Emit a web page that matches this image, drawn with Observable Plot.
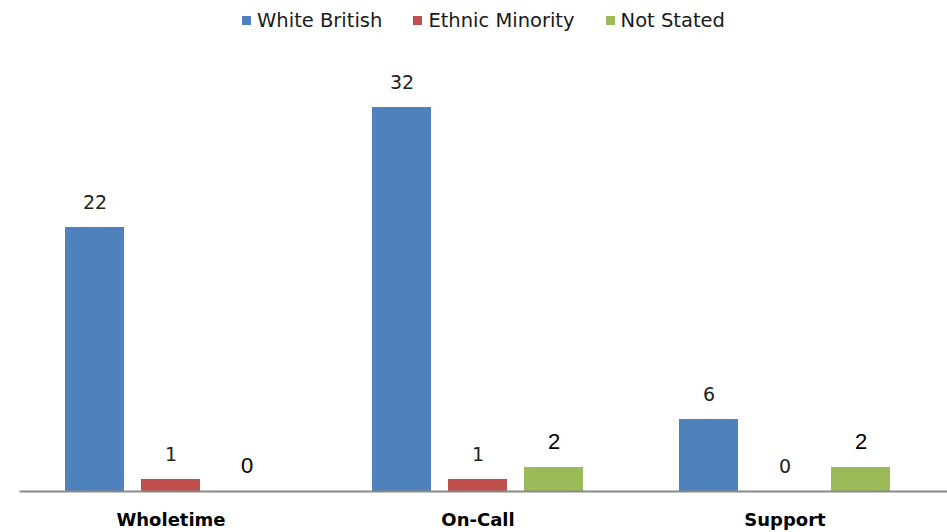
<!DOCTYPE html>
<html>
<head>
<meta charset="utf-8">
<script src="https://cdn.jsdelivr.net/npm/d3@7"></script>
<script src="https://cdn.jsdelivr.net/npm/@observablehq/plot@0.6"></script>
<style>
  html, body { margin: 0; padding: 0; background: #fff; }
  #wrap { width: 947px; }
  .legend { height: 40px; box-sizing: border-box; padding-left: 20px; display: flex; justify-content: center;
            align-items: center; gap: 31px; font-family: "DejaVu Sans", sans-serif; font-size: 19.5px; color: #1a1a1a; }
  .legend span.item { display: inline-flex; align-items: center; }
  .legend i { display: inline-block; width: 9px; height: 9px; margin-right: 6px; }
</style>
</head>
<body>
<div id="wrap"></div>
<script>
const categories = ["Wholetime", "On-Call", "Support"];
const seriesNames = ["White British", "Ethnic Minority", "Not Stated"];
const whiteBritish = [22, 32, 6];
const ethnicMinority = [1, 1, 0];
const notStated = [0, 2, 2];
const colors = ["#4F81BD", "#C0504D", "#9BBB59"];

const seriesValues = [whiteBritish, ethnicMinority, notStated];
const rows = [];
categories.forEach((c, i) => {
  seriesNames.forEach((s, j) => rows.push({category: c, series: s, value: seriesValues[j][i]}));
});

const wrap = document.getElementById("wrap");

// legend row above the chart
const legend = document.createElement("div");
legend.className = "legend";
seriesNames.forEach((s, j) => {
  const it = document.createElement("span");
  it.className = "item";
  it.innerHTML = `<i style="background:${colors[j]}"></i>${s}`;
  legend.appendChild(it);
});
wrap.appendChild(legend);

const chart = Plot.plot({
  width: 947,
  height: 492,
  marginTop: 31,
  marginBottom: 41,
  marginLeft: 16,
  marginRight: 8,
  fx: {domain: categories, padding: 0, label: null, axis: null},
  x: {domain: seriesNames, paddingInner: 0.22, paddingOuter: 0.607, axis: null},
  y: {domain: [0, 35], axis: null},
  color: {domain: seriesNames, range: colors},
  marks: [
    Plot.barY(rows, {fx: "category", x: "series", y: "value", fill: "series"}),
    // one continuous baseline (the bottom edge of the frame, where y = 0)
    Plot.frame({anchor: "bottom", facet: "super", stroke: "#8a8a8a", strokeWidth: 2, insetLeft: 3, insetRight: -8}),
    Plot.text(rows.filter(d => d.series !== "Not Stated"), {
      fx: "category", x: "series", y: "value", text: d => String(d.value),
      dy: -25, fontSize: 19, fill: "#222", fontFamily: "DejaVu Sans, sans-serif"
    }),
    Plot.text(rows.filter(d => d.series === "Not Stated"), {
      fx: "category", x: "series", y: "value", text: d => String(d.value),
      dy: -26, fontSize: 22, fill: "#000", fontFamily: "Liberation Sans, Arial, sans-serif"
    }),
    Plot.text(categories, {
      fx: d => d, frameAnchor: "bottom", dy: 34, text: d => d,
      fontSize: 18, fontWeight: "bold", fill: "#000", fontFamily: "DejaVu Sans, sans-serif"
    })
  ]
});
wrap.appendChild(chart);
</script>
</body>
</html>
